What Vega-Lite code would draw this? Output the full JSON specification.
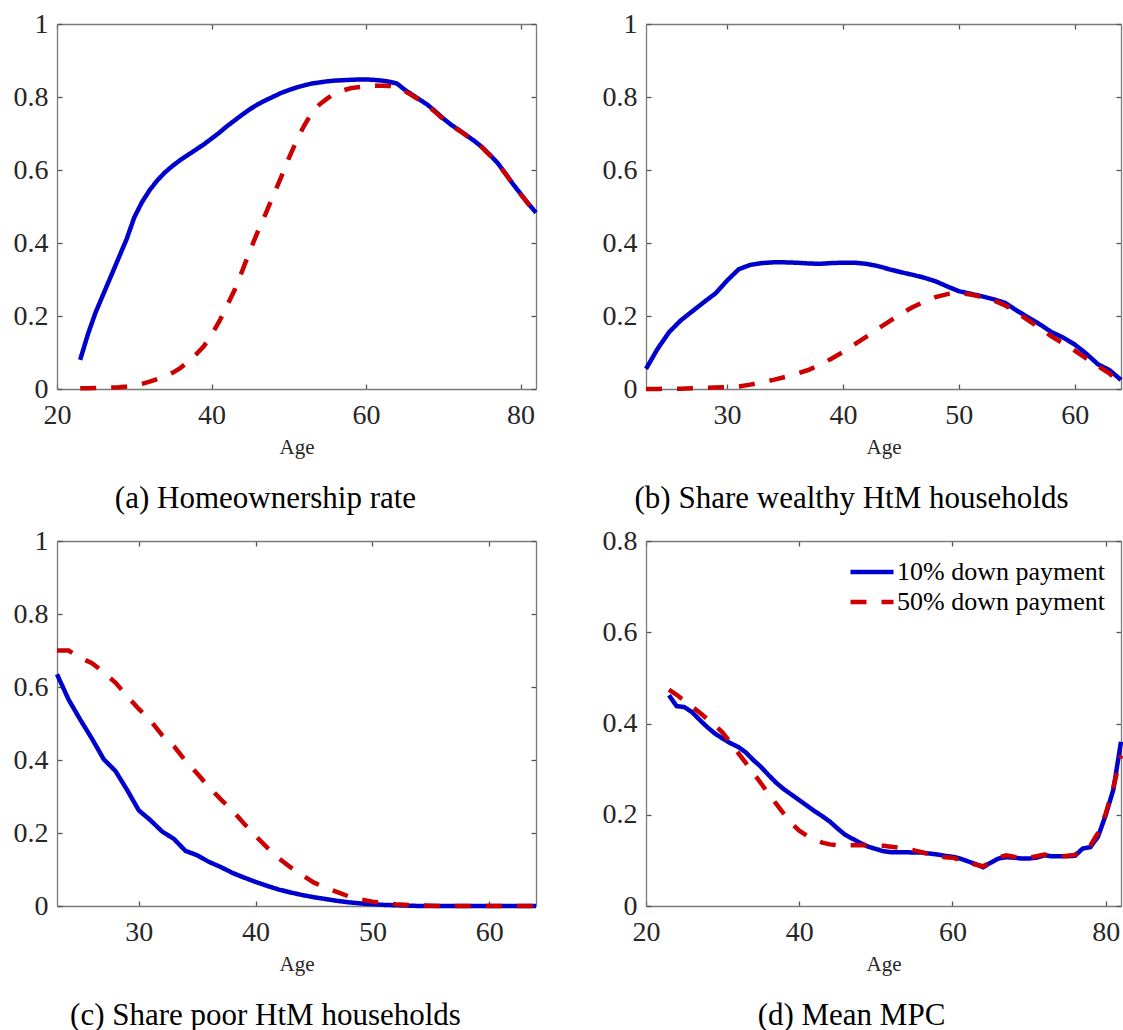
{
  "$schema": "https://vega.github.io/schema/vega-lite/v6.json",
  "background": "white",
  "padding": {"left": 13, "top": 10, "right": 0, "bottom": 0},
  "datasets": {
    "a": [
      {"age":23,"p10":0.080,"p50":0.002},{"age":24,"p10":0.150,"p50":0.002},{"age":25,"p10":0.210,"p50":0.003},{"age":26,"p10":0.260,"p50":0.003},
      {"age":27,"p10":0.310,"p50":0.004},{"age":28,"p10":0.360,"p50":0.005},{"age":29,"p10":0.410,"p50":0.007},{"age":30,"p10":0.470,"p50":0.010},
      {"age":31,"p10":0.512,"p50":0.014},{"age":32,"p10":0.545,"p50":0.020},{"age":33,"p10":0.572,"p50":0.027},{"age":34,"p10":0.594,"p50":0.034},
      {"age":35,"p10":0.612,"p50":0.045},{"age":36,"p10":0.628,"p50":0.058},{"age":37,"p10":0.642,"p50":0.075},{"age":38,"p10":0.656,"p50":0.095},
      {"age":39,"p10":0.670,"p50":0.117},{"age":40,"p10":0.686,"p50":0.148},{"age":41,"p10":0.702,"p50":0.185},{"age":42,"p10":0.720,"p50":0.228},
      {"age":43,"p10":0.736,"p50":0.272},{"age":44,"p10":0.752,"p50":0.325},{"age":45,"p10":0.767,"p50":0.380},{"age":46,"p10":0.780,"p50":0.432},
      {"age":47,"p10":0.791,"p50":0.480},{"age":48,"p10":0.801,"p50":0.530},{"age":49,"p10":0.811,"p50":0.580},{"age":50,"p10":0.819,"p50":0.632},
      {"age":51,"p10":0.826,"p50":0.680},{"age":52,"p10":0.832,"p50":0.722},{"age":53,"p10":0.837,"p50":0.757},{"age":54,"p10":0.840,"p50":0.780},
      {"age":55,"p10":0.843,"p50":0.796},{"age":56,"p10":0.845,"p50":0.810},{"age":57,"p10":0.846,"p50":0.818},{"age":58,"p10":0.847,"p50":0.824},
      {"age":59,"p10":0.848,"p50":0.827},{"age":60,"p10":0.848,"p50":0.829},{"age":61,"p10":0.847,"p50":0.831},{"age":62,"p10":0.845,"p50":0.831},
      {"age":63,"p10":0.842,"p50":0.830},{"age":64,"p10":0.837,"p50":0.826},{"age":65,"p10":0.820,"p50":0.816},{"age":66,"p10":0.806,"p50":0.804},
      {"age":67,"p10":0.792,"p50":0.790},{"age":68,"p10":0.778,"p50":0.776},{"age":69,"p10":0.760,"p50":0.758},{"age":70,"p10":0.741,"p50":0.739},
      {"age":71,"p10":0.724,"p50":0.722},{"age":72,"p10":0.710,"p50":0.709},{"age":73,"p10":0.695,"p50":0.694},{"age":74,"p10":0.680,"p50":0.679},
      {"age":75,"p10":0.663,"p50":0.662},{"age":76,"p10":0.642,"p50":0.641},{"age":77,"p10":0.620,"p50":0.619},{"age":78,"p10":0.592,"p50":0.591},
      {"age":79,"p10":0.562,"p50":0.561},{"age":80,"p10":0.535,"p50":0.534},{"age":81,"p10":0.508,"p50":0.507},{"age":82,"p10":0.483,"p50":0.482}
    ],
    "b": [
      {"age":23,"p10":0.055,"p50":0.000},{"age":24,"p10":0.110,"p50":0.000},{"age":25,"p10":0.156,"p50":0.001},{"age":26,"p10":0.188,"p50":0.001},
      {"age":27,"p10":0.213,"p50":0.002},{"age":28,"p10":0.238,"p50":0.003},{"age":29,"p10":0.262,"p50":0.004},{"age":30,"p10":0.297,"p50":0.005},
      {"age":31,"p10":0.328,"p50":0.007},{"age":32,"p10":0.340,"p50":0.012},{"age":33,"p10":0.345,"p50":0.018},{"age":34,"p10":0.347,"p50":0.025},
      {"age":35,"p10":0.347,"p50":0.033},{"age":36,"p10":0.346,"p50":0.042},{"age":37,"p10":0.344,"p50":0.052},{"age":38,"p10":0.343,"p50":0.066},
      {"age":39,"p10":0.345,"p50":0.083},{"age":40,"p10":0.346,"p50":0.101},{"age":41,"p10":0.346,"p50":0.122},{"age":42,"p10":0.343,"p50":0.143},
      {"age":43,"p10":0.337,"p50":0.165},{"age":44,"p10":0.328,"p50":0.185},{"age":45,"p10":0.320,"p50":0.206},{"age":46,"p10":0.313,"p50":0.224},
      {"age":47,"p10":0.305,"p50":0.239},{"age":48,"p10":0.295,"p50":0.252},{"age":49,"p10":0.281,"p50":0.260},{"age":50,"p10":0.268,"p50":0.263},
      {"age":51,"p10":0.261,"p50":0.259},{"age":52,"p10":0.254,"p50":0.252},{"age":53,"p10":0.246,"p50":0.243},{"age":54,"p10":0.236,"p50":0.229},
      {"age":55,"p10":0.215,"p50":0.210},{"age":56,"p10":0.196,"p50":0.188},{"age":57,"p10":0.177,"p50":0.167},{"age":58,"p10":0.156,"p50":0.144},
      {"age":59,"p10":0.141,"p50":0.125},{"age":60,"p10":0.122,"p50":0.105},{"age":61,"p10":0.097,"p50":0.084},{"age":62,"p10":0.068,"p50":0.063},
      {"age":63,"p10":0.052,"p50":0.043},{"age":64,"p10":0.025,"p50":0.012}
    ],
    "c": [
      {"age":23,"p10":0.635,"p50":0.700},{"age":24,"p10":0.565,"p50":0.700},{"age":25,"p10":0.510,"p50":0.680},{"age":26,"p10":0.458,"p50":0.665},
      {"age":27,"p10":0.402,"p50":0.640},{"age":28,"p10":0.370,"p50":0.612},{"age":29,"p10":0.318,"p50":0.575},{"age":30,"p10":0.262,"p50":0.540},
      {"age":31,"p10":0.235,"p50":0.508},{"age":32,"p10":0.204,"p50":0.468},{"age":33,"p10":0.184,"p50":0.438},{"age":34,"p10":0.151,"p50":0.398},
      {"age":35,"p10":0.139,"p50":0.363},{"age":36,"p10":0.121,"p50":0.326},{"age":37,"p10":0.107,"p50":0.293},{"age":38,"p10":0.091,"p50":0.262},
      {"age":39,"p10":0.078,"p50":0.226},{"age":40,"p10":0.066,"p50":0.192},{"age":41,"p10":0.055,"p50":0.160},{"age":42,"p10":0.045,"p50":0.130},
      {"age":43,"p10":0.037,"p50":0.106},{"age":44,"p10":0.030,"p50":0.084},{"age":45,"p10":0.024,"p50":0.064},{"age":46,"p10":0.019,"p50":0.050},
      {"age":47,"p10":0.014,"p50":0.038},{"age":48,"p10":0.010,"p50":0.026},{"age":49,"p10":0.007,"p50":0.018},{"age":50,"p10":0.005,"p50":0.012},
      {"age":51,"p10":0.003,"p50":0.008},{"age":52,"p10":0.002,"p50":0.005},{"age":53,"p10":0.001,"p50":0.003},{"age":54,"p10":0.000,"p50":0.002},
      {"age":55,"p10":0.000,"p50":0.001},{"age":56,"p10":0.000,"p50":0.000},{"age":57,"p10":0.000,"p50":0.000},{"age":58,"p10":0.000,"p50":0.000},
      {"age":59,"p10":0.000,"p50":0.000},{"age":60,"p10":0.000,"p50":0.000},{"age":61,"p10":0.000,"p50":0.000},{"age":62,"p10":0.000,"p50":0.000},
      {"age":63,"p10":0.000,"p50":0.000},{"age":64,"p10":0.000,"p50":0.000}
    ],
    "d": [
      {"age":23,"p10":0.462,"p50":0.474},{"age":24,"p10":0.438,"p50":0.463},{"age":25,"p10":0.436,"p50":0.450},{"age":26,"p10":0.425,"p50":0.437},
      {"age":27,"p10":0.408,"p50":0.424},{"age":28,"p10":0.392,"p50":0.410},{"age":29,"p10":0.378,"p50":0.396},{"age":30,"p10":0.367,"p50":0.380},
      {"age":31,"p10":0.357,"p50":0.359},{"age":32,"p10":0.349,"p50":0.336},{"age":33,"p10":0.337,"p50":0.314},{"age":34,"p10":0.320,"p50":0.292},
      {"age":35,"p10":0.305,"p50":0.269},{"age":36,"p10":0.287,"p50":0.246},{"age":37,"p10":0.270,"p50":0.224},{"age":38,"p10":0.256,"p50":0.202},
      {"age":39,"p10":0.244,"p50":0.181},{"age":40,"p10":0.232,"p50":0.165},{"age":41,"p10":0.220,"p50":0.154},{"age":42,"p10":0.208,"p50":0.146},
      {"age":43,"p10":0.197,"p50":0.139},{"age":44,"p10":0.185,"p50":0.135},{"age":45,"p10":0.170,"p50":0.133},{"age":46,"p10":0.156,"p50":0.133},
      {"age":47,"p10":0.147,"p50":0.133},{"age":48,"p10":0.138,"p50":0.133},{"age":49,"p10":0.130,"p50":0.133},{"age":50,"p10":0.125,"p50":0.133},
      {"age":51,"p10":0.120,"p50":0.132},{"age":52,"p10":0.118,"p50":0.130},{"age":53,"p10":0.118,"p50":0.128},{"age":54,"p10":0.118,"p50":0.126},
      {"age":55,"p10":0.117,"p50":0.122},{"age":56,"p10":0.117,"p50":0.118},{"age":57,"p10":0.115,"p50":0.113},{"age":58,"p10":0.113,"p50":0.109},
      {"age":59,"p10":0.110,"p50":0.107},{"age":60,"p10":0.108,"p50":0.106},{"age":61,"p10":0.104,"p50":0.101},{"age":62,"p10":0.098,"p50":0.095},
      {"age":63,"p10":0.092,"p50":0.091},{"age":64,"p10":0.085,"p50":0.087},{"age":65,"p10":0.095,"p50":0.096},{"age":66,"p10":0.104,"p50":0.106},
      {"age":67,"p10":0.107,"p50":0.111},{"age":68,"p10":0.106,"p50":0.108},{"age":69,"p10":0.104,"p50":0.106},{"age":70,"p10":0.104,"p50":0.106},
      {"age":71,"p10":0.106,"p50":0.109},{"age":72,"p10":0.111,"p50":0.113},{"age":73,"p10":0.109,"p50":0.110},{"age":74,"p10":0.109,"p50":0.109},
      {"age":75,"p10":0.109,"p50":0.110},{"age":76,"p10":0.110,"p50":0.112},{"age":77,"p10":0.126,"p50":0.126},{"age":78,"p10":0.129,"p50":0.133},
      {"age":79,"p10":0.152,"p50":0.160},{"age":80,"p10":0.199,"p50":0.202},{"age":81,"p10":0.255,"p50":0.260},{"age":82,"p10":0.360,"p50":0.330}
    ]
  },
  "columns": 2,
  "bounds": "flush",
  "spacing": {"row": 152, "column": 110},
  "resolve": {
    "scale": {"color": "independent", "strokeDash": "independent"},
    "legend": {"color": "independent", "strokeDash": "independent"}
  },
  "concat": [
    {
      "width": 479, "height": 365,
      "data": {"name": "a"},
      "transform": [{"fold": ["p10", "p50"], "as": ["series", "value"]}],
      "title": {"text": "(a) Homeownership rate", "orient": "bottom", "dx": -31, "offset": 27},
      "layer": [
        {
          "mark": {"type": "line", "strokeWidth": 4.5},
          "encoding": {
            "x": {"field": "age", "type": "quantitative", "scale": {"domain": [20, 82], "nice": false, "zero": false}, "axis": {"orient": "bottom", "values": [20, 40, 60, 80], "title": "Age", "labelPadding": 17}},
            "y": {"field": "value", "type": "quantitative", "scale": {"domain": [0, 1], "nice": false}, "axis": {"orient": "left", "values": [0, 0.2, 0.4, 0.6, 0.8, 1], "format": "~g", "title": null}},
            "color": {"field": "series", "type": "nominal", "scale": {"domain": ["p10", "p50"], "range": ["#0000CC", "#CC0000"]}, "legend": null},
            "strokeDash": {"field": "series", "type": "nominal", "scale": {"domain": ["p10", "p50"], "range": [[1, 0], [16, 15]]}, "legend": null}
          }
        },
        {
          "mark": {"type": "line", "strokeOpacity": 0},
          "encoding": {
            "x": {"field": "age", "type": "quantitative", "scale": {"domain": [20, 82], "nice": false, "zero": false}, "axis": {"orient": "top", "values": [20, 40, 60, 80], "labels": false, "title": null}},
            "y": {"field": "value", "type": "quantitative", "scale": {"domain": [0, 1], "nice": false}, "axis": {"orient": "right", "values": [0, 0.2, 0.4, 0.6, 0.8, 1], "labels": false, "title": null}},
            "detail": {"field": "series"}
          }
        }
      ],
      "resolve": {"axis": {"x": "independent", "y": "independent"}}
    },
    {
      "width": 475, "height": 365,
      "data": {"name": "b"},
      "transform": [{"fold": ["p10", "p50"], "as": ["series", "value"]}],
      "title": {"text": "(b) Share wealthy HtM households", "orient": "bottom", "dx": -32, "offset": 27},
      "layer": [
        {
          "mark": {"type": "line", "strokeWidth": 4.5},
          "encoding": {
            "x": {"field": "age", "type": "quantitative", "scale": {"domain": [23, 64], "nice": false, "zero": false}, "axis": {"orient": "bottom", "values": [30, 40, 50, 60], "title": "Age", "labelPadding": 17}},
            "y": {"field": "value", "type": "quantitative", "scale": {"domain": [0, 1], "nice": false}, "axis": {"orient": "left", "values": [0, 0.2, 0.4, 0.6, 0.8, 1], "format": "~g", "title": null}},
            "color": {"field": "series", "type": "nominal", "scale": {"domain": ["p10", "p50"], "range": ["#0000CC", "#CC0000"]}, "legend": null},
            "strokeDash": {"field": "series", "type": "nominal", "scale": {"domain": ["p10", "p50"], "range": [[1, 0], [16, 15]]}, "legend": null}
          }
        },
        {
          "mark": {"type": "line", "strokeOpacity": 0},
          "encoding": {
            "x": {"field": "age", "type": "quantitative", "scale": {"domain": [23, 64], "nice": false, "zero": false}, "axis": {"orient": "top", "values": [30, 40, 50, 60], "labels": false, "title": null}},
            "y": {"field": "value", "type": "quantitative", "scale": {"domain": [0, 1], "nice": false}, "axis": {"orient": "right", "values": [0, 0.2, 0.4, 0.6, 0.8, 1], "labels": false, "title": null}},
            "detail": {"field": "series"}
          }
        }
      ],
      "resolve": {"axis": {"x": "independent", "y": "independent"}}
    },
    {
      "width": 479, "height": 365,
      "data": {"name": "c"},
      "transform": [{"fold": ["p10", "p50"], "as": ["series", "value"]}],
      "title": {"text": "(c) Share poor HtM households", "orient": "bottom", "dx": -31, "offset": 27},
      "layer": [
        {
          "mark": {"type": "line", "strokeWidth": 4.5},
          "encoding": {
            "x": {"field": "age", "type": "quantitative", "scale": {"domain": [23, 64], "nice": false, "zero": false}, "axis": {"orient": "bottom", "values": [30, 40, 50, 60], "title": "Age", "labelPadding": 17}},
            "y": {"field": "value", "type": "quantitative", "scale": {"domain": [0, 1], "nice": false}, "axis": {"orient": "left", "values": [0, 0.2, 0.4, 0.6, 0.8, 1], "format": "~g", "title": null}},
            "color": {"field": "series", "type": "nominal", "scale": {"domain": ["p10", "p50"], "range": ["#0000CC", "#CC0000"]}, "legend": null},
            "strokeDash": {"field": "series", "type": "nominal", "scale": {"domain": ["p10", "p50"], "range": [[1, 0], [16, 15]]}, "legend": null}
          }
        },
        {
          "mark": {"type": "line", "strokeOpacity": 0},
          "encoding": {
            "x": {"field": "age", "type": "quantitative", "scale": {"domain": [23, 64], "nice": false, "zero": false}, "axis": {"orient": "top", "values": [30, 40, 50, 60], "labels": false, "title": null}},
            "y": {"field": "value", "type": "quantitative", "scale": {"domain": [0, 1], "nice": false}, "axis": {"orient": "right", "values": [0, 0.2, 0.4, 0.6, 0.8, 1], "labels": false, "title": null}},
            "detail": {"field": "series"}
          }
        }
      ],
      "resolve": {"axis": {"x": "independent", "y": "independent"}}
    },
    {
      "width": 475, "height": 365,
      "data": {"name": "d"},
      "transform": [{"fold": ["p10", "p50"], "as": ["series", "value"]}],
      "title": {"text": "(d) Mean MPC", "orient": "bottom", "dx": -32, "offset": 27},
      "layer": [
        {
          "mark": {"type": "line", "strokeWidth": 4.5},
          "encoding": {
            "x": {"field": "age", "type": "quantitative", "scale": {"domain": [20, 82], "nice": false, "zero": false}, "axis": {"orient": "bottom", "values": [20, 40, 60, 80], "title": "Age", "labelPadding": 17}},
            "y": {"field": "value", "type": "quantitative", "scale": {"domain": [0, 0.8], "nice": false}, "axis": {"orient": "left", "values": [0, 0.2, 0.4, 0.6, 0.8], "format": "~g", "title": null}},
            "color": {"field": "series", "type": "nominal", "scale": {"domain": ["p10", "p50"], "range": ["#0000CC", "#CC0000"]},
              "legend": {"orient": "none", "legendX": 213, "legendY": 18, "title": null, "symbolType": "M-2,0H2", "symbolSize": 462, "symbolStrokeWidth": 4.5, "labelFont": "Liberation Serif, Times New Roman, serif", "labelFontSize": 26, "labelColor": "#000000", "labelOffset": 12, "labelLimit": 400, "rowPadding": 4, "labelExpr": "datum.label == 'p10' ? '10% down payment' : '50% down payment'"}},
            "strokeDash": {"field": "series", "type": "nominal", "scale": {"domain": ["p10", "p50"], "range": [[1, 0], [16, 15]]},
              "legend": {"orient": "none", "legendX": 213, "legendY": 18, "title": null, "symbolType": "M-2,0H2", "symbolSize": 462, "symbolStrokeWidth": 4.5, "labelFont": "Liberation Serif, Times New Roman, serif", "labelFontSize": 26, "labelColor": "#000000", "labelOffset": 12, "labelLimit": 400, "rowPadding": 4, "labelExpr": "datum.label == 'p10' ? '10% down payment' : '50% down payment'"}}
          }
        },
        {
          "mark": {"type": "line", "strokeOpacity": 0},
          "encoding": {
            "x": {"field": "age", "type": "quantitative", "scale": {"domain": [20, 82], "nice": false, "zero": false}, "axis": {"orient": "top", "values": [20, 40, 60, 80], "labels": false, "title": null}},
            "y": {"field": "value", "type": "quantitative", "scale": {"domain": [0, 0.8], "nice": false}, "axis": {"orient": "right", "values": [0, 0.2, 0.4, 0.6, 0.8], "labels": false, "title": null}},
            "detail": {"field": "series"}
          }
        }
      ],
      "resolve": {"axis": {"x": "independent", "y": "independent"}}
    }
  ],
  "config": {
    "view": {"stroke": null},
    "axis": {
      "domainColor": "#7a7a7a", "domainWidth": 1.3,
      "tickColor": "#555555", "tickWidth": 1.3, "tickSize": -5,
      "labelFont": "Liberation Serif, Times New Roman, serif", "labelFontSize": 28, "labelColor": "#262626",
      "labelPadding": 14, "labelFlush": false, "labelOverlap": false,
      "grid": false,
      "titleFont": "Liberation Serif, Times New Roman, serif", "titleFontSize": 21, "titleFontWeight": "normal", "titleColor": "#262626", "titlePadding": 7
    },
    "title": {"font": "Liberation Serif, Times New Roman, serif", "fontSize": 31, "fontWeight": "normal", "color": "#000000", "anchor": "middle"}
  }
}
